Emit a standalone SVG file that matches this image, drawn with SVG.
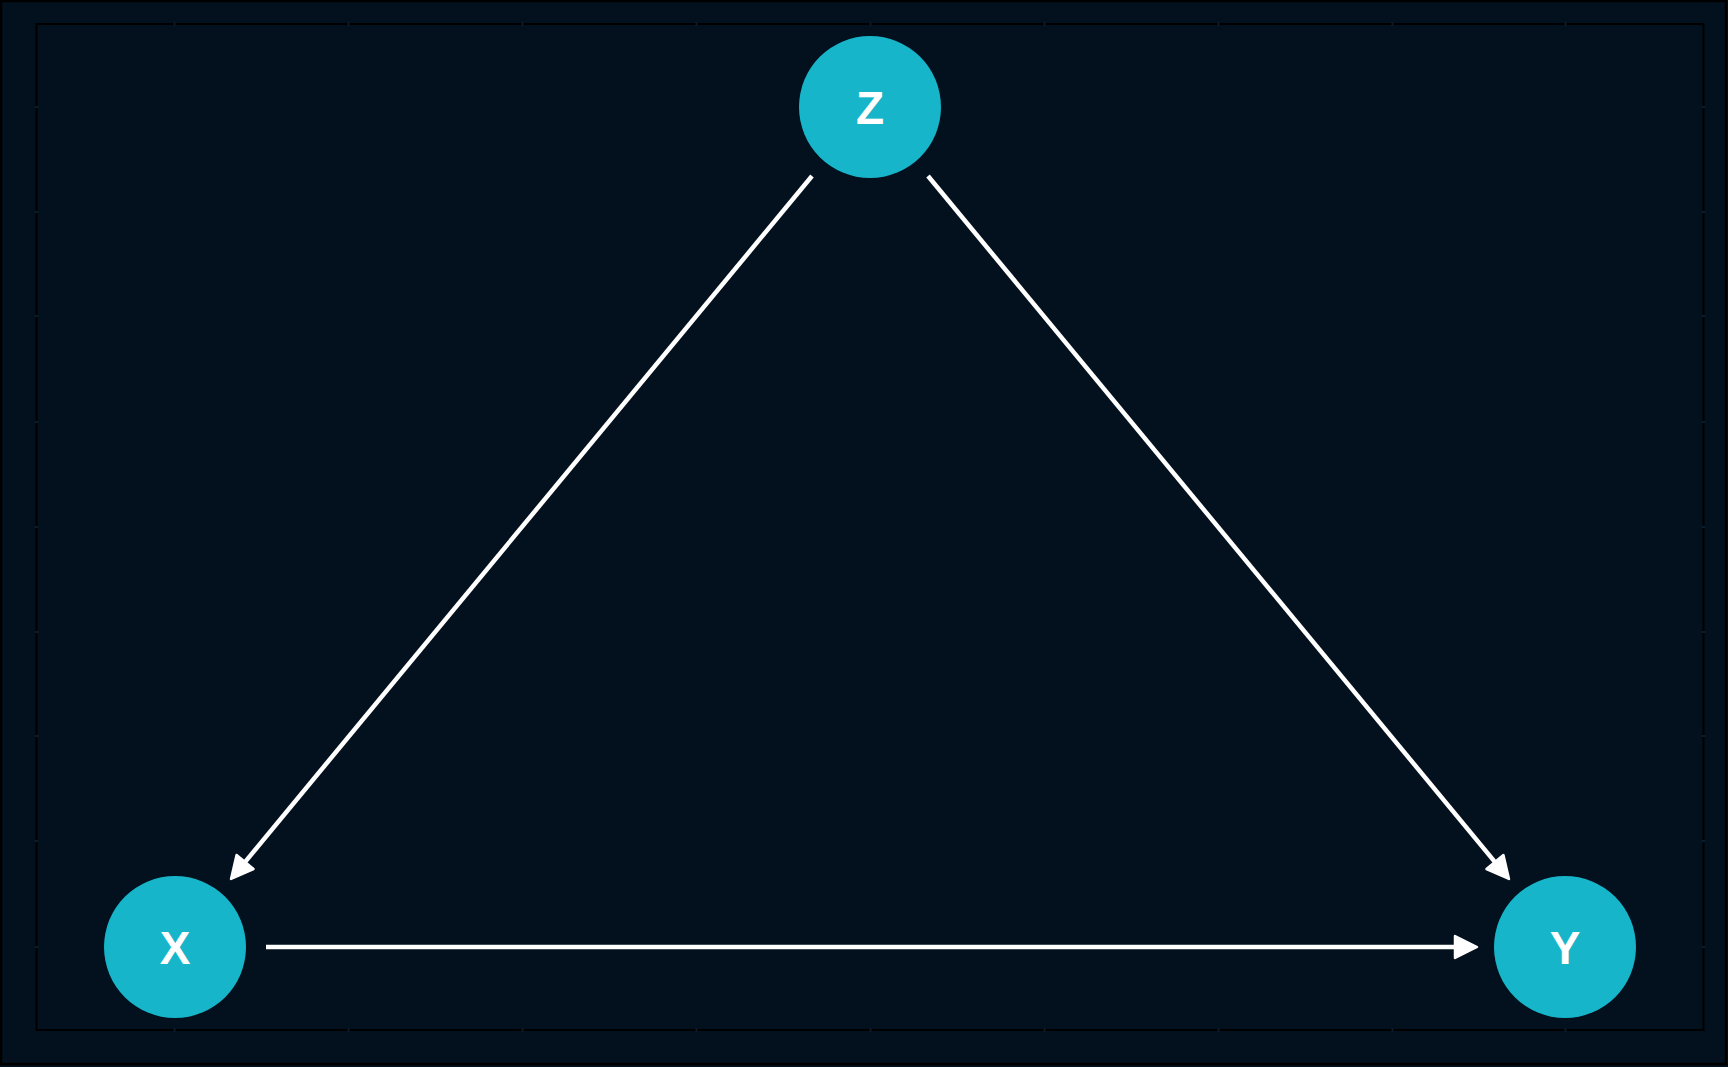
<svg xmlns="http://www.w3.org/2000/svg" width="1728" height="1067" viewBox="0 0 1728 1067">
<style>
.node circle{fill:#17b5c9}
.node text{fill:#ffffff;font-family:"Liberation Sans",Arial,sans-serif;font-weight:bold;font-size:46px;text-anchor:middle}
.edge{stroke:#ffffff;stroke-width:4.5;fill:none}
.tick{fill:#0b1b29}
</style>
<defs>
<marker id="arr" markerUnits="userSpaceOnUse" markerWidth="40" markerHeight="30" viewBox="-10 -15 40 30" refX="0" refY="0" orient="auto" overflow="visible">
<path d="M-4,-11 L18,0 L-4,11 Z" fill="#ffffff" stroke="#ffffff" stroke-width="2.5" stroke-linejoin="round"/>
</marker>
</defs>
<rect x="0" y="0" width="1728" height="1067" fill="#03101d"/>
<rect x="1" y="1" width="1725" height="1063" fill="none" stroke="#000000" stroke-width="2.5"/>
<rect x="36.5" y="24" width="1667" height="1006" fill="none" stroke="#000000" stroke-width="2"/>
<g id="ticks">
<rect class="tick" x="173.5" y="22" width="2" height="4"/>
<rect class="tick" x="347.5" y="22" width="2" height="4"/>
<rect class="tick" x="521.5" y="22" width="2" height="4"/>
<rect class="tick" x="695.5" y="22" width="2" height="4"/>
<rect class="tick" x="869.5" y="22" width="2" height="4"/>
<rect class="tick" x="1043.5" y="22" width="2" height="4"/>
<rect class="tick" x="1217.5" y="22" width="2" height="4"/>
<rect class="tick" x="1391.5" y="22" width="2" height="4"/>
<rect class="tick" x="1564.5" y="22" width="2" height="4"/>
<rect class="tick" x="173.5" y="1028" width="2" height="4"/>
<rect class="tick" x="347.5" y="1028" width="2" height="4"/>
<rect class="tick" x="521.5" y="1028" width="2" height="4"/>
<rect class="tick" x="695.5" y="1028" width="2" height="4"/>
<rect class="tick" x="869.5" y="1028" width="2" height="4"/>
<rect class="tick" x="1043.5" y="1028" width="2" height="4"/>
<rect class="tick" x="1217.5" y="1028" width="2" height="4"/>
<rect class="tick" x="1391.5" y="1028" width="2" height="4"/>
<rect class="tick" x="1564.5" y="1028" width="2" height="4"/>
<rect class="tick" x="34.5" y="106" width="4" height="2"/>
<rect class="tick" x="34.5" y="211" width="4" height="2"/>
<rect class="tick" x="34.5" y="315" width="4" height="2"/>
<rect class="tick" x="34.5" y="421" width="4" height="2"/>
<rect class="tick" x="34.5" y="526" width="4" height="2"/>
<rect class="tick" x="34.5" y="631" width="4" height="2"/>
<rect class="tick" x="34.5" y="735" width="4" height="2"/>
<rect class="tick" x="34.5" y="840" width="4" height="2"/>
<rect class="tick" x="34.5" y="946" width="4" height="2"/>
<rect class="tick" x="1701.5" y="106" width="4" height="2"/>
<rect class="tick" x="1701.5" y="211" width="4" height="2"/>
<rect class="tick" x="1701.5" y="315" width="4" height="2"/>
<rect class="tick" x="1701.5" y="421" width="4" height="2"/>
<rect class="tick" x="1701.5" y="526" width="4" height="2"/>
<rect class="tick" x="1701.5" y="631" width="4" height="2"/>
<rect class="tick" x="1701.5" y="735" width="4" height="2"/>
<rect class="tick" x="1701.5" y="840" width="4" height="2"/>
<rect class="tick" x="1701.5" y="946" width="4" height="2"/>
</g>
<g id="connectors">
<line class="edge" x1="812" y1="176" x2="242.5" y2="865.1" marker-end="url(#arr)"/>
<line class="edge" x1="928" y1="176" x2="1497.5" y2="865.1" marker-end="url(#arr)"/>
<line class="edge" x1="266" y1="947" x2="1459" y2="947" marker-end="url(#arr)"/>
</g>
<g id="node-Z" class="node">
<circle cx="870" cy="107" r="71"/>
<text x="870" y="123.5">Z</text>
</g>
<g id="node-X" class="node">
<circle cx="175" cy="947" r="71"/>
<text x="175" y="963.5">X</text>
</g>
<g id="node-Y" class="node">
<circle cx="1565" cy="947" r="71"/>
<text x="1565" y="963.5">Y</text>
</g>
</svg>
